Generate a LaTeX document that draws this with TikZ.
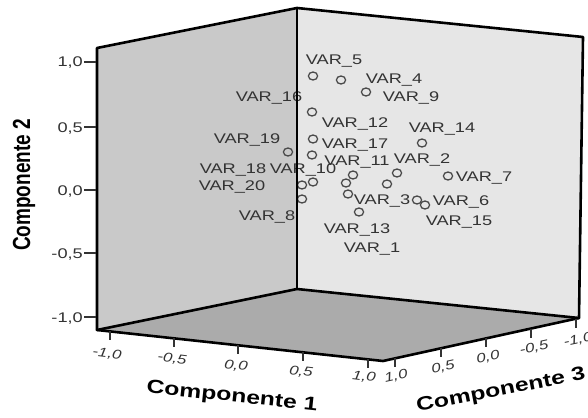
\documentclass[tikz,border=0pt]{standalone}
\usepackage{fontspec}
\setmainfont{Liberation Sans}
\usepackage{graphicx}
\definecolor{leftwall}{HTML}{C9C9C9}
\definecolor{rightwall}{HTML}{E6E6E6}
\definecolor{floorc}{HTML}{ABABAB}
\definecolor{txtgray}{HTML}{333333}
\definecolor{ptgray}{HTML}{4A4A4A}
\newcommand{\wide}[1]{\scalebox{1.3}[1]{#1}}
\newcommand{\tallt}[1]{\scalebox{1}[1.3]{#1}}
\begin{document}
\begin{tikzpicture}[x=1pt,y=-1pt,
  edge/.style={line width=2.6pt,line join=round,line cap=round},
  tickline/.style={line width=1.2pt,draw=txtgray},
  pt/.style={draw=ptgray,line width=1.3pt},
  lbl/.style={inner sep=0pt,anchor=base,text=txtgray,font=\fontsize{14}{16}\selectfont},
  ylab/.style={inner sep=0pt,anchor=base east,text=txtgray,font=\fontsize{14}{16}\selectfont},
  xlab/.style={inner sep=0pt,anchor=center,text=txtgray,font=\fontsize{13}{15}\selectfont\itshape,rotate=-7},
  zlab/.style={inner sep=0pt,anchor=center,text=txtgray,font=\fontsize{13}{15}\selectfont\itshape,rotate=12},
  title/.style={inner sep=0pt,anchor=center,text=black,font=\fontsize{19}{22}\selectfont\bfseries}
]
\useasboundingbox (0,0) rectangle (588,417);
\clip (0,0) rectangle (588,417);
% corners
\coordinate (LT) at (97,48);
\coordinate (BT) at (297,8);
\coordinate (RT) at (583,37);
\coordinate (LB) at (97,330);
\coordinate (BB) at (297,289);
\coordinate (RB) at (579,318);
\coordinate (FB) at (383,361);
% panels
\fill[leftwall] (LT) -- (BT) -- (BB) -- (LB) -- cycle;
\fill[rightwall] (BT) -- (RT) -- (RB) -- (BB) -- cycle;
\fill[floorc] (LB) -- (BB) -- (RB) -- (FB) -- cycle;
% data points
\foreach \px/\py in {313/76,341/80,366/92,312/112,313/139,422/143,288/152,312/155,
  353/175,397/173,448/176,313/182,302/185,346/183,387/184,348/194,302/199,417/200,425/205,359/212}
  {\draw[pt] (\px,\py) ellipse [x radius=4.6pt, y radius=4pt];}
% point labels
\node[lbl] (v5)  at (334,65)  {\wide{VAR\_5}};
\node[lbl] (v4)  at (394,84)  {\wide{VAR\_4}};
\node[lbl] (v9)  at (411,102) {\wide{VAR\_9}};
\node[lbl] (v16) at (269,102) {\wide{VAR\_16}};
\node[lbl] (v12) at (355,128) {\wide{VAR\_12}};
\node[lbl] (v14) at (442,132) {\wide{VAR\_14}};
\node[lbl] (v17) at (355,148) {\wide{VAR\_17}};
\node[lbl] (v19) at (247,143) {\wide{VAR\_19}};
\node[lbl] (v11) at (357,165) {\wide{VAR\_11}};
\node[lbl] (v2)  at (422,163) {\wide{VAR\_2}};
\node[lbl] (v18) at (233,173) {\wide{VAR\_18}};
\node[lbl] (v10) at (303,173) {\wide{VAR\_10}};
\node[lbl] (v7)  at (484,181) {\wide{VAR\_7}};
\node[lbl] (v20) at (232,190) {\wide{VAR\_20}};
\node[lbl] (v3)  at (382,204) {\wide{VAR\_3}};
\node[lbl] (v6)  at (461,205) {\wide{VAR\_6}};
\node[lbl] (v8)  at (267,220) {\wide{VAR\_8}};
\node[lbl] (v15) at (459,225) {\wide{VAR\_15}};
\node[lbl] (v13) at (357,233) {\wide{VAR\_13}};
\node[lbl] (v1)  at (372,252) {\wide{VAR\_1}};
% edges
\draw[edge] (LT) -- (BT) -- (RT) -- (RB) -- (FB) -- (LB) -- cycle;
\draw[edge] (BT) -- (BB);
\draw[edge] (LB) -- (BB) -- (RB);
% y axis
\foreach \yy/\t in {62/{1,0},127/{0,5},190/{0,0},253/{-0,5},317/{-1,0}}{
  \draw[tickline] (84,\yy) -- (96,\yy);
  \node[ylab] at (83,{\yy+5}) {\wide{\t}};
}
% x axis (Componente 1)
\foreach \xx/\lx/\ly/\t in {110/107/354/{-1,0},174/172/359/{-0,5},238/236/366/{0,0},303/301/372/{0,5},368/364/377/{1,0}}{
  \pgfmathsetmacro\ye{330+(\xx-97)*31/286}
  \draw[tickline] (\xx,\ye) -- (\xx,{\ye+9});
  \node[xlab] at (\lx,\ly) {\wide{\t}};
}
% z axis (Componente 3)
\foreach \xx/\lx/\ly/\t in {395/396/376/{1,0},441/443/367/{0,5},486/488/357/{0,0},531/534/348/{-0,5},576/578/340/{-1,0}}{
  \pgfmathsetmacro\ye{361-(\xx-383)*43/196}
  \draw[tickline] (\xx,\ye) -- (\xx,{\ye+9});
  \node[zlab] at (\lx,\ly) {\wide{\t}};
}
% titles
\node[title,rotate=90] (t2) at (24,185) {\tallt{Componente 2}};
\node[title,rotate=-6] (t1) at (232,397) {\wide{Componente 1}};
\node[title,rotate=11] (t3) at (501,391) {\wide{Componente 3}};
\end{tikzpicture}
\end{document}
